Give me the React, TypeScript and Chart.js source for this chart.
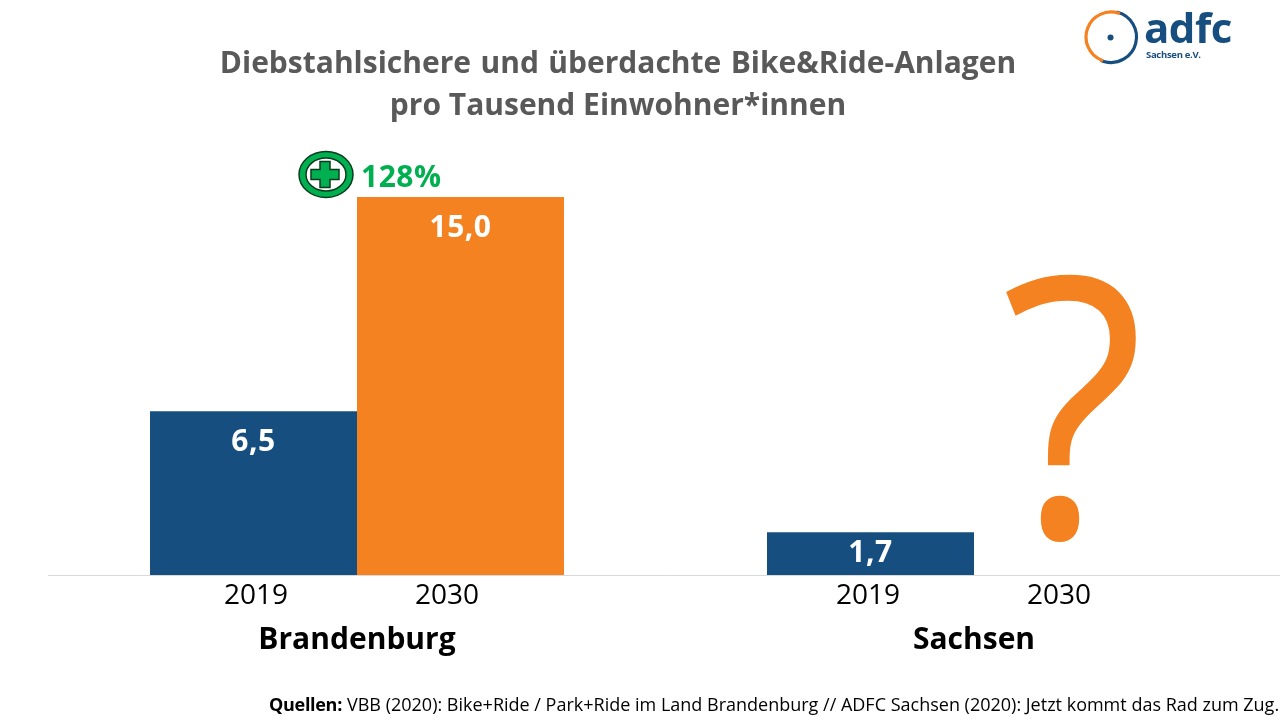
import React, { useEffect, useRef } from "react";
import { Chart, registerables } from "chart.js";

Chart.register(...registerables);

const categories = ["Brandenburg", "Sachsen"];
const years = ["2019", "2030"];
const values2019 = [6.5, 1.7];
const values2030: (number | null)[] = [15.0, null];
const valueLabels = [["6,5", "1,7"], ["15,0", ""]];
const titleLines = ["Diebstahlsichere und überdachte Bike&Ride-Anlagen", "pro Tausend Einwohner*innen"];
const growthLabel = "128%";
const sourceBold = "Quellen:";
const sourceText = "VBB (2020): Bike+Ride / Park+Ride im Land Brandenburg // ADFC Sachsen (2020): Jetzt kommt das Rad zum Zug.";

const BLUE = "#174E80";
const ORANGE = "#F58220";
const GREEN = "#00B050";
const FONT = '"Open Sans", "Noto Sans", sans-serif';

function text(ctx: CanvasRenderingContext2D, s: string, x: number, y: number, font: string, color: string, align: CanvasTextAlign = "center", spacing = "0px", wordSpacing = "0px") {
  ctx.font = font;
  ctx.fillStyle = color;
  ctx.textAlign = align;
  ctx.textBaseline = "alphabetic";
  (ctx as any).letterSpacing = spacing;
  (ctx as any).wordSpacing = wordSpacing;
  ctx.fillText(s, x, y);
  (ctx as any).letterSpacing = "0px";
  (ctx as any).wordSpacing = "0px";
}

const overlay = {
  id: "overlay",
  afterDatasetsDraw(chart: any) {
    const ctx: CanvasRenderingContext2D = chart.ctx;
    ctx.save();
    const yearShift = [[-101, 90], [-106, 85]];
    const x = chart.scales.x;
    [0, 1].forEach((ds) => {
      const meta = chart.getDatasetMeta(ds);
      categories.forEach((_, i) => {
        const bar = meta.data[i];
        const center = x.getPixelForValue(i);
        text(ctx, years[ds], center + yearShift[i][ds], 604, `400 28px ${FONT}`, "#000000");
        if (valueLabels[ds][i] && bar) {
          const cx = center + (ds === 0 ? -103.5 : 103.5);
          text(ctx, valueLabels[ds][i], cx, bar.y + (i === 1 ? 30 : 40), `700 30px ${FONT}`, "#FFFFFF", "center", "0.5px");
        }
      });
    });
    // Unknown Sachsen 2030 value
    ctx.save();
    ctx.translate(x.getPixelForValue(1) + 99, 537);
    ctx.scale(0.92, 1);
    text(ctx, "?", 0, 0, `400 362px ${FONT}`, ORANGE);
    ctx.restore();

    // Growth badge
    ctx.beginPath();
    ctx.ellipse(326, 174.5, 27, 23, 0, 0, Math.PI * 2);
    ctx.fillStyle = GREEN;
    ctx.fill();
    ctx.lineWidth = 1.5;
    ctx.strokeStyle = "#0B3B1E";
    ctx.stroke();
    ctx.beginPath();
    ctx.ellipse(326, 174.5, 20, 16.5, 0, 0, Math.PI * 2);
    ctx.fillStyle = "#FFFFFF";
    ctx.fill();
    ctx.stroke();
    ctx.beginPath();
    const p = [[-5, -13], [5, -13], [5, -5], [14, -5], [14, 5], [5, 5], [5, 13], [-5, 13], [-5, 5], [-14, 5], [-14, -5], [-5, -5]];
    p.forEach(([dx, dy], i) => (i ? ctx.lineTo(325 + dx, 174.5 + dy) : ctx.moveTo(325 + dx, 174.5 + dy)));
    ctx.closePath();
    ctx.fillStyle = GREEN;
    ctx.fill();
    ctx.stroke();
    text(ctx, growthLabel, 361, 187, `700 30px ${FONT}`, GREEN, "left", "0.5px");

    // Title
    text(ctx, titleLines[0], 618, 73, `700 30px ${FONT}`, "#595959", "center", "0px", "1.6px");
    text(ctx, titleLines[1], 618, 115, `700 30px ${FONT}`, "#595959");

    // Source
    text(ctx, sourceBold, 269, 711, `700 18px ${FONT}`, "#000000", "left", "-0.3px");
    text(ctx, sourceText, 347, 711, `400 18px ${FONT}`, "#000000", "left");

    // Logo
    ctx.lineCap = "round";
    ctx.beginPath();
    ctx.ellipse(1111, 37, 25.5, 25.5, 0, -Math.PI * 0.42, Math.PI * 0.62);
    ctx.strokeStyle = BLUE;
    ctx.lineWidth = 3.2;
    ctx.stroke();
    ctx.beginPath();
    ctx.ellipse(1111, 37, 25, 25, 0, Math.PI * 0.62, Math.PI * 1.6);
    ctx.strokeStyle = ORANGE;
    ctx.lineWidth = 3.2;
    ctx.stroke();
    ctx.beginPath();
    ctx.arc(1110.5, 37.5, 3, 0, Math.PI * 2);
    ctx.fillStyle = BLUE;
    ctx.fill();
    text(ctx, "adfc", 1144, 43, `700 42px ${FONT}`, BLUE, "left", "-0.5px");
    text(ctx, "Sachsen e.V.", 1146, 58, `700 9.5px ${FONT}`, BLUE, "left", "-0.3px");
    ctx.restore();
  },
};

export default function App() {
  const ref = useRef<HTMLCanvasElement>(null);
  useEffect(() => {
    document.body.style.margin = "0";
    document.body.style.background = "#fff";
    const chart = new Chart(ref.current!, {
      type: "bar",
      data: {
        labels: categories,
        datasets: [
          { label: years[0], data: values2019, backgroundColor: BLUE },
          { label: years[1], data: values2030, backgroundColor: ORANGE },
        ],
      },
      options: {
        animation: false,
        responsive: false,
        layout: { padding: { left: 48.5, right: 0.5, top: 0, bottom: 0 } },
        plugins: { legend: { display: false }, title: { display: false }, tooltip: { enabled: false } },
        datasets: { bar: { categoryPercentage: 414 / 617, barPercentage: 1 } },
        scales: {
          y: { display: false, min: 0, max: 575 / 25.2 },
          x: {
            afterFit: (axis: any) => { axis.height = 145; },
            grid: { display: false, drawTicks: false },
            border: { display: true, color: "#D9D9D9", width: 1 },
            ticks: { padding: 47, color: "#000000", font: { family: FONT, size: 30, weight: 700 } },
          },
        },
      },
      plugins: [overlay],
    } as any);
    return () => chart.destroy();
  }, []);
  return (
    <div style={{ width: 1280, height: 720, overflow: "hidden" }}>
      <canvas ref={ref} width={1283} height={720} style={{ display: "block" }} />
    </div>
  );
}
